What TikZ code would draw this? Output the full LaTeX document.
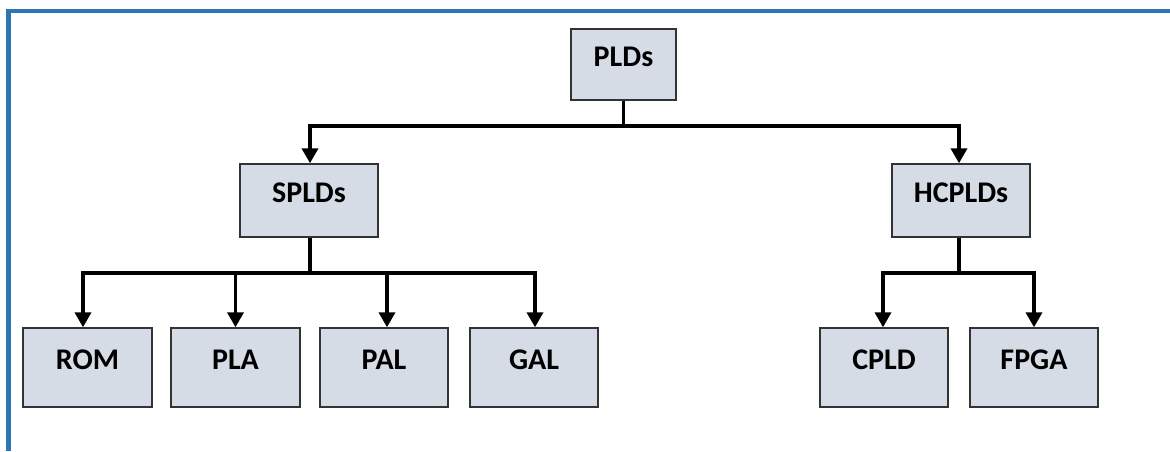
\documentclass[tikz,border=0pt]{standalone}
\usepackage{fontspec}
\setmainfont{Carlito}
\usetikzlibrary{arrows.meta}
\definecolor{frameblue}{HTML}{2E75B6}
\definecolor{boxfill}{HTML}{D6DCE5}
\definecolor{boxline}{HTML}{333333}
\begin{document}
\begin{tikzpicture}[x=1pt,y=-1pt,
  box/.style={draw=boxline, line width=1.4pt, fill=boxfill, inner sep=0pt,
    font=\fontsize{30}{33}\selectfont\bfseries,
    text height=20pt, text depth=16pt},
  link/.style={line width=3.6pt, black},
  arrowlink/.style={link, -{Triangle[length=15pt,width=16pt]}, shorten >=0pt}]
  \useasboundingbox (0,0) rectangle (1170,451);
  % frame (top and left edges)
  \draw[frameblue, line width=4.5pt] (8.5,451) -- (8.5,11) -- (1170,11);

  % boxes
  \node[box, minimum width=105pt, minimum height=71pt] (plds)   at (623.5,64.5) {PLDs};
  \node[box, minimum width=138pt, minimum height=73pt] (splds)  at (309,200.5) {SPLDs};
  \node[box, minimum width=138pt, minimum height=73pt] (hcplds) at (961,200.5) {HCPLDs};
  \node[box, minimum width=129pt, minimum height=79pt] (rom)  at (87.5,367.5) {ROM};
  \node[box, minimum width=129pt, minimum height=79pt] (pla)  at (235.5,367.5) {PLA};
  \node[box, minimum width=128pt, minimum height=79pt] (pal)  at (384,367.5) {PAL};
  \node[box, minimum width=128pt, minimum height=79pt] (gal)  at (534,367.5) {GAL};
  \node[box, minimum width=128pt, minimum height=79pt] (cpld) at (884,367.5) {CPLD};
  \node[box, minimum width=128pt, minimum height=79pt] (fpga) at (1034,367.5) {FPGA};

  % bus junctions
  \coordinate (b0) at (623.5,126);
  \coordinate (b1) at (310,273);
  \coordinate (b2) at (959,273);

  % PLDs -> SPLDs / HCPLDs
  \draw[link] (plds.south) -- (b0);
  \draw[arrowlink] (b0) -| ([xshift=1pt]splds.north);
  \draw[arrowlink] (b0) -| ([xshift=-2pt]hcplds.north);

  % SPLDs -> ROM, PLA, PAL, GAL
  \draw[link] ([xshift=1pt]splds.south) -- (b1);
  \draw[arrowlink] (b1) -| ([xshift=-4.5pt]rom.north);
  \draw[arrowlink] (b1) -| (pla.north);
  \draw[arrowlink] (b1) -| ([xshift=3pt]pal.north);
  \draw[arrowlink] (b1) -| ([xshift=1pt]gal.north);

  % HCPLDs -> CPLD, FPGA
  \draw[link] ([xshift=-2pt]hcplds.south) -- (b2);
  \draw[arrowlink] (b2) -| ([xshift=-1pt]cpld.north);
  \draw[arrowlink] (b2) -| (fpga.north);
\end{tikzpicture}
\end{document}
